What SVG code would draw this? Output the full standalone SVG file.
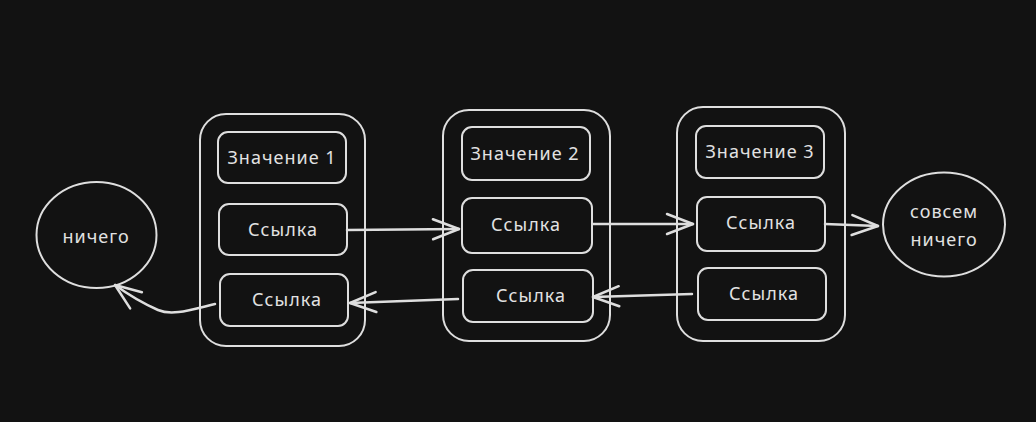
<svg xmlns="http://www.w3.org/2000/svg" width="1036" height="422" viewBox="0 0 1036 422">
<style>
.bg{fill:#121212}
.sh{fill:none;stroke:#dedede;stroke-width:2;stroke-linecap:round;stroke-linejoin:round}
.in{fill:#121212;stroke:#dedede;stroke-width:2}
.t{fill:#e2e2e2;font-family:"Noto Sans","DejaVu Sans",sans-serif;font-size:18px;letter-spacing:1px;text-anchor:middle;dominant-baseline:central}
.c{fill:none;stroke:#dedede;stroke-width:2.5;stroke-linecap:round}
</style>
<defs>
<marker id="ah" viewBox="-28 -12 30 24" markerWidth="30" markerHeight="24" refX="0" refY="0" orient="auto" markerUnits="userSpaceOnUse">
<path d="M-26,-10 L0,0 L-26,10" fill="none" stroke="#dedede" stroke-width="2.5" stroke-linecap="round" stroke-linejoin="round"/>
</marker>
</defs>
<rect class="bg" x="0" y="0" width="1036" height="422"/>
<g id="node-nothing">
<ellipse class="sh" cx="96.5" cy="235" rx="60" ry="53"/>
<text class="t" x="96" y="236">ничего</text>
</g>
<g id="node-container1">
<rect class="sh" x="200" y="114" width="165" height="232" rx="26"/>
</g>
<g id="node-value1">
<rect class="in" x="218" y="132" width="128" height="51" rx="10"/>
<text class="t" x="282" y="157">Значение 1</text>
</g>
<g id="node-ref1-next">
<rect class="in" x="219" y="204" width="128" height="51" rx="10"/>
<text class="t" x="283" y="229">Ссылка</text>
</g>
<g id="node-ref1-prev">
<rect class="in" x="220" y="274" width="128" height="52" rx="10"/>
<text class="t" x="287" y="299">Ссылка</text>
</g>
<g id="node-container2">
<rect class="sh" x="443" y="110" width="167" height="231" rx="26"/>
</g>
<g id="node-value2">
<rect class="in" x="462" y="127" width="128" height="53" rx="10"/>
<text class="t" x="525" y="153">Значение 2</text>
</g>
<g id="node-ref2-next">
<rect class="in" x="462" y="198" width="130" height="55" rx="10"/>
<text class="t" x="526" y="224">Ссылка</text>
</g>
<g id="node-ref2-prev">
<rect class="in" x="463" y="270" width="130" height="52" rx="10"/>
<text class="t" x="531" y="295">Ссылка</text>
</g>
<g id="node-container3">
<rect class="sh" x="677" y="107" width="168" height="234" rx="26"/>
</g>
<g id="node-value3">
<rect class="in" x="696" y="126" width="128" height="52" rx="10"/>
<text class="t" x="760" y="151">Значение 3</text>
</g>
<g id="node-ref3-next">
<rect class="in" x="697" y="197" width="128" height="54" rx="10"/>
<text class="t" x="761" y="222">Ссылка</text>
</g>
<g id="node-ref3-prev">
<rect class="in" x="698" y="268" width="128" height="52" rx="10"/>
<text class="t" x="764" y="293">Ссылка</text>
</g>
<g id="node-nothing-at-all">
<ellipse class="sh" cx="944" cy="224.5" rx="61" ry="52"/>
<text class="t" x="944" y="211">совсем</text>
<text class="t" x="944" y="239">ничего</text>
</g>
<g id="connectors">
<path class="c" d="M347,230 L459,229" marker-end="url(#ah)"/>
<path class="c" d="M593,224 L693,224" marker-end="url(#ah)"/>
<path class="c" d="M825,224 L878,226" marker-end="url(#ah)"/>
<path class="c" d="M692,294 L593,297" marker-end="url(#ah)"/>
<path class="c" d="M458,299 L350,303" marker-end="url(#ah)"/>
<path class="c" d="M215,304 C190,310 172,316 158,310 C140,302 126,293 115,285" marker-end="url(#ah)"/>
</g>
</svg>
